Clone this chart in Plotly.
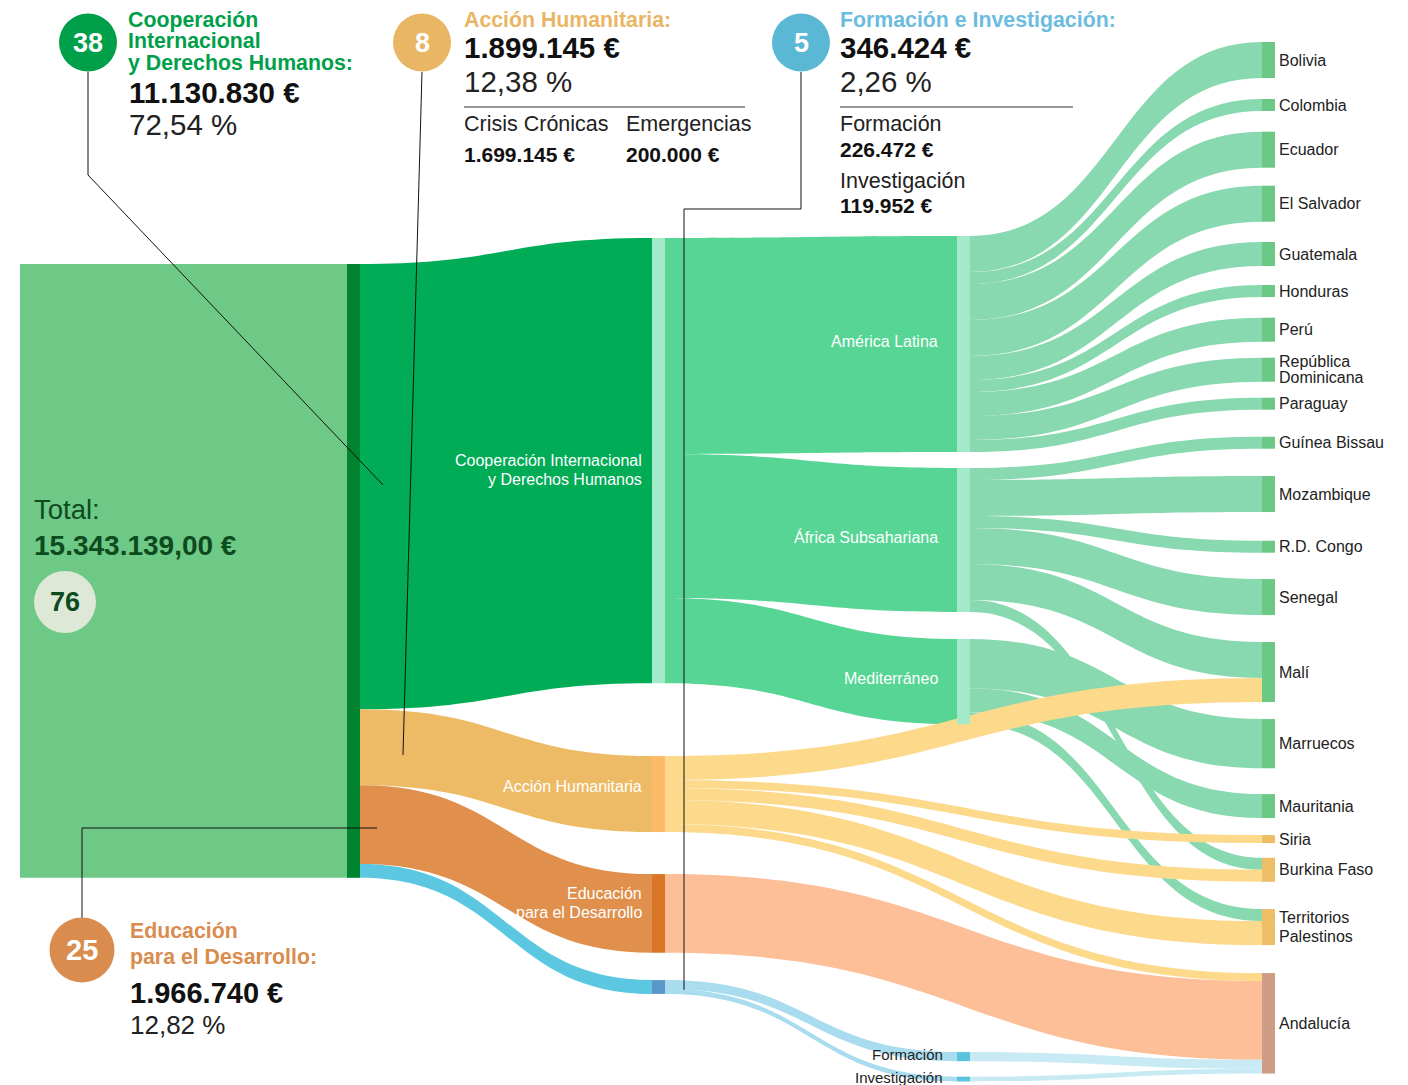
import plotly.graph_objects as go

# ---------------- data ----------------
total_name = "Total"
total_text = "15.343.139,00 €"
total_projects = "76"

categories = ["Cooperación Internacional y Derechos Humanos", "Acción Humanitaria",
              "Educación para el Desarrollo", "Formación e Investigación"]
category_values = [11130830, 1899145, 1966740, 346424]
category_projects = ["38", "8", "25", "5"]
category_amount_text = ["11.130.830 €", "1.899.145 €", "1.966.740 €", "346.424 €"]
category_pct_text = ["72,54 %", "12,38 %", "12,82 %", "2,26 %"]

regions = ["América Latina", "África Subsahariana", "Mediterráneo"]
region_link_source = ["América Latina"] * 9 + ["África Subsahariana"] * 6 + ["Mediterráneo"] * 3
region_link_target = ["Bolivia", "Colombia", "Ecuador", "El Salvador", "Guatemala", "Honduras", "Perú",
                      "República Dominicana", "Paraguay",
                      "Guínea Bissau", "Mozambique", "R.D. Congo", "Senegal", "Malí", "Burkina Faso",
                      "Marruecos", "Mauritania", "Territorios Palestinos"]
region_link_value = [900000, 300000, 900000, 900000, 600000, 300000, 600000, 600000, 300000,
                     300000, 900000, 300000, 900000, 900000, 300000,
                     1230830, 600000, 300000]

ah_types = ["Crisis Crónicas", "Emergencias"]
ah_type_values_text = ["1.699.145 €", "200.000 €"]
ah_link_target = ["Malí", "Siria", "Burkina Faso", "Territorios Palestinos", "Andalucía"]
ah_link_value = [600000, 200000, 300000, 600000, 199145]

fi_parts = ["Formación", "Investigación"]
fi_values = [226472, 119952]
fi_values_text = ["226.472 €", "119.952 €"]

countries = ["Bolivia", "Colombia", "Ecuador", "El Salvador", "Guatemala", "Honduras", "Perú",
             "República Dominicana", "Paraguay", "Guínea Bissau", "Mozambique", "R.D. Congo",
             "Senegal", "Malí", "Marruecos", "Mauritania", "Siria", "Burkina Faso",
             "Territorios Palestinos", "Andalucía"]
country_label_lines = {"República Dominicana": ["República", "Dominicana"],
                       "Territorios Palestinos": ["Territorios", "Palestinos"]}

# ---------------- layout / style constants ----------------
W, H = 1408, 1085
FONT = "Liberation Sans"
NODE_THICK = 13
NODE_PAD = 24.8
COL_LEFT = [347, 652, 957, 1262]
COL_START = [264, 238, 236, 42]
COL_GAPS = [[], [72.8, 42, 27.3], [16, 27, 327.8, 15.5],
            [21, 20.7, 18, 20.3, 19, 20.7, 16, 16, 27, 27.3, 28.7, 26.3, 27, 17, 25.8, 17, 14.7, 27.3, 28]]

C_TOTAL_BG = "#6DC985"
C_TOTAL_NODE = "#00842F"
cat_link_colors = ["#00AC55", "#EDBB66", "#E0904C", "#5BC7E0"]
cat_node_colors = ["#A3EACA", "#FDBB6A", "#DA7628", "#5B96C9"]
cat_title_colors = ["#00A04A", "#E8B664", "#D98C4E", "#6CBCE0"]
C_COOP_REGION = "#56D594"
C_REGION_NODE = "#A3EACA"
C_REGION_COUNTRY = "#88D9AF"
C_AH_COUNTRY = "#FDD98C"
C_EPD_AND = "#FCBF97"
C_FI_PART = "#A8DCEE"
C_PART_NODE = "#5BC4DD"
C_PART_AND = "#C8EAF4"
C_COUNTRY_GREEN = "#6CC985"
C_COUNTRY_AH = "#EEBE66"
C_ANDALUCIA = "#CD9E85"

HEAD = 21.3     # coloured bold headings
AMOUNT = 29.5   # big amounts
SUB = 21.5      # sub headings
SUBVAL = 21     # sub values
LBL = 16        # labels in chart

# ---------------- build sankey ----------------
nodes = [total_name] + categories + regions + fi_parts + countries
idx = {n: i for i, n in enumerate(nodes)}

src, tgt, val, lcol = [], [], [], []


def link(s, t, v, c):
    src.append(idx[s]); tgt.append(idx[t]); val.append(v); lcol.append(c)


for c, v, col in zip(categories, category_values, cat_link_colors):
    link(total_name, c, v, col)
region_values = [sum(v for s, v in zip(region_link_source, region_link_value) if s == r) for r in regions]
for r, v in zip(regions, region_values):
    link(categories[0], r, v, C_COOP_REGION)
for s, t, v in zip(region_link_source, region_link_target, region_link_value):
    link(s, t, v, C_REGION_COUNTRY)
for t, v in zip(ah_link_target, ah_link_value):
    link(categories[1], t, v, C_AH_COUNTRY)
link(categories[2], "Andalucía", category_values[2], C_EPD_AND)
for p, v in zip(fi_parts, fi_values):
    link(categories[3], p, v, C_FI_PART)
for p, v in zip(fi_parts, fi_values):
    link(p, "Andalucía", v, C_PART_AND)

# node values
inflow = [0] * len(nodes)
outflow = [0] * len(nodes)
for s, t, v in zip(src, tgt, val):
    outflow[s] += v
    inflow[t] += v
node_value = [max(a, b) for a, b in zip(inflow, outflow)]
total_value = node_value[0]

columns = [[total_name], categories, regions + fi_parts, countries]
ky = (H - (len(countries) - 1) * NODE_PAD) / total_value  # px per euro (as plotly computes)

node_x = [0.0] * len(nodes)
node_y = [0.0] * len(nodes)
node_top = {}
node_bot = {}
for ci, col in enumerate(columns):
    y = COL_START[ci]
    for k, n in enumerate(col):
        if k > 0:
            y += COL_GAPS[ci][k - 1]
        h = node_value[idx[n]] * ky
        node_top[n] = y
        node_bot[n] = y + h
        node_x[idx[n]] = (COL_LEFT[ci] + NODE_THICK / 2) / W
        node_y[idx[n]] = (y + h / 2) / H
        y += h


def center(n):
    return (node_top[n] + node_bot[n]) / 2


node_colors = [C_TOTAL_NODE] + cat_node_colors + [C_REGION_NODE] * 3 + [C_PART_NODE] * 2
for c in countries:
    if c == "Andalucía":
        node_colors.append(C_ANDALUCIA)
    elif c in ("Siria", "Burkina Faso", "Territorios Palestinos"):
        node_colors.append(C_COUNTRY_AH)
    else:
        node_colors.append(C_COUNTRY_GREEN)

fig = go.Figure(go.Sankey(
    arrangement="fixed",
    domain=dict(x=[0, 1], y=[0, 1]),
    node=dict(pad=NODE_PAD, thickness=NODE_THICK, line=dict(width=0),
              x=node_x, y=node_y, label=[""] * len(nodes), customdata=nodes,
              color=node_colors,
              hovertemplate="%{customdata}: %{value:,.0f} €<extra></extra>"),
    link=dict(source=src, target=tgt, value=val, color=lcol),
))

# ---------------- annotations & shapes ----------------
ann = []
shapes = []


def px(x):
    return x / W


def py(y):
    return 1 - y / H


def text(t, x, y, size, color, bold=False, anchor="left"):
    ann.append(dict(text=f"<b>{t}</b>" if bold else t, x=px(x), y=py(y), xref="paper", yref="paper",
                    xanchor=anchor, yanchor="middle", showarrow=False, borderpad=0,
                    font=dict(family=FONT, size=size, color=color)))


def line(points, width=1, color="#111"):
    path = "M " + " L ".join(f"{px(a):.5f},{py(b):.5f}" for a, b in points)
    shapes.append(dict(type="path", path=path, xref="paper", yref="paper",
                       line=dict(color=color, width=width), layer="above"))


def circle(cx, cy, r, color):
    shapes.append(dict(type="circle", xref="paper", yref="paper", x0=px(cx - r), x1=px(cx + r),
                       y0=py(cy + r), y1=py(cy - r), fillcolor=color, line=dict(width=0), layer="above"))


# total block
shapes.append(dict(type="rect", xref="paper", yref="paper", x0=px(20), x1=px(COL_LEFT[0]),
                   y0=py(node_bot[total_name]), y1=py(node_top[total_name]),
                   fillcolor=C_TOTAL_BG, line=dict(width=0), layer="below"))
text("Total:", 33, 510, 27.5, "#0D4A1E")
text(total_text, 33, 545, 28, "#0D4A1E", bold=True)
circle(65, 602, 31, "#DDE8D6")
text(total_projects, 65, 602, 27, "#0D4A1E", bold=True, anchor="center")

# leader lines
line([(88, 72), (88, 175), (383, 485)])
line([(422, 72), (403, 755)])
line([(801, 72), (801, 209), (684, 209), (684, 990)])
line([(82, 918), (82, 828), (377, 828)])
line([(464, 107), (745, 107)], color="#333")
line([(840, 107), (1073, 107)], color="#333")

# circles with project counts
circle(88, 42.5, 29, cat_title_colors[0])
circle(422, 42.5, 29, cat_title_colors[1])
circle(801, 42.5, 29, "#5BB8D4")
circle(82, 950, 32.5, cat_title_colors[2])
text(category_projects[0], 88, 43, 27, "white", bold=True, anchor="center")
text(category_projects[1], 422, 43, 27, "white", bold=True, anchor="center")
text(category_projects[3], 801, 43, 27, "white", bold=True, anchor="center")
text(category_projects[2], 82, 950, 29, "white", bold=True, anchor="center")

# Cooperación header
for t, y in zip(["Cooperación", "Internacional", "y Derechos Humanos:"], [20, 41, 63]):
    text(t, 127, y, HEAD, cat_title_colors[0], bold=True)
text(category_amount_text[0], 128, 92, AMOUNT, "#111", bold=True)
text(category_pct_text[0], 128, 124, AMOUNT, "#222")

# Acción Humanitaria header
text("Acción Humanitaria:", 463, 20, HEAD, cat_title_colors[1], bold=True)
text(category_amount_text[1], 463, 48, AMOUNT, "#111", bold=True)
text(category_pct_text[1], 463, 81, AMOUNT, "#222")
text(ah_types[0], 463, 124, SUB, "#222")
text(ah_types[1], 625, 124, SUB, "#222")
text(ah_type_values_text[0], 463, 154, SUBVAL, "#111", bold=True)
text(ah_type_values_text[1], 625, 154, SUBVAL, "#111", bold=True)

# Formación e Investigación header
text("Formación e Investigación:", 839, 20, HEAD, cat_title_colors[3], bold=True)
text(category_amount_text[3], 839, 48, AMOUNT, "#111", bold=True)
text(category_pct_text[3], 839, 81, AMOUNT, "#222")
text(fi_parts[0], 839, 124, SUB, "#222")
text(fi_values_text[0], 839, 149, SUBVAL, "#111", bold=True)
text(fi_parts[1], 839, 181, SUB, "#222")
text(fi_values_text[1], 839, 206, SUBVAL, "#111", bold=True)

# Educación header
text("Educación", 129, 931, HEAD, cat_title_colors[2], bold=True)
text("para el Desarrollo:", 129, 957, HEAD, cat_title_colors[2], bold=True)
text(category_amount_text[2], 129, 993, 29, "#111", bold=True)
text(category_pct_text[2], 129, 1025, 26, "#222")

# labels inside flows
cc = center(categories[0])
text("Cooperación Internacional", 643, cc, LBL, "white", anchor="right")
text("y Derechos Humanos", 643, cc + 19, LBL, "white", anchor="right")
text("Acción Humanitaria", 643, center(categories[1]) - 8, LBL, "white", anchor="right")
ce = center(categories[2])
text("Educación", 643, ce - 20, LBL, "white", anchor="right")
text("para el Desarrollo", 643, ce - 1, LBL, "white", anchor="right")
for r in regions:
    text(r, 939, center(r) - 3, LBL, "white", anchor="right")
for p in fi_parts:
    text(p, 944, center(p) - 2, 15, "#222", anchor="right")

# country labels
for c in countries:
    cy = center(c)
    if c in country_label_lines:
        l1, l2 = country_label_lines[c]
        off = 8 if c == "República Dominicana" else 9.5
        text(l1, 1278, cy - off, LBL, "#222")
        text(l2, 1278, cy + off, LBL, "#222")
    else:
        text(c, 1278, cy, LBL, "#222")

fig.update_layout(width=W, height=H, margin=dict(l=0, r=0, t=0, b=0),
                  paper_bgcolor="white", plot_bgcolor="white", showlegend=False,
                  annotations=ann, shapes=shapes, font=dict(family=FONT))

fig.write_html("out.html", config={"displayModeBar": False},
               post_script="document.body.style.margin='0px';")
